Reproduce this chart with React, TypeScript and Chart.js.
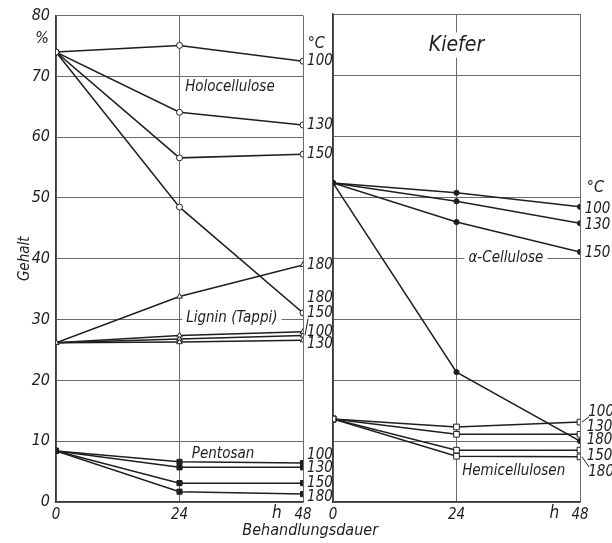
import React, { useEffect, useRef } from "react";
import { Chart, registerables } from "chart.js";

Chart.register(...registerables);

// ---- data ----
const hours = [0, 24, 48];
const yTicks = [0, 10, 20, 30, 40, 50, 60, 70, 80];

// Left panel
const holo100 = [74.0, 75.1, 72.5];
const holo130 = [74.0, 64.1, 62.0];
const holo150 = [74.0, 56.6, 57.2];
const holo180 = [74.0, 48.5, 31.1];
const lignin100 = [26.2, 27.4, 28.0];
const lignin130 = [26.2, 26.3, 26.6];
const lignin150 = [26.2, 26.8, 27.4];
const lignin180 = [26.2, 33.8, 39.0];
const pent100 = [8.4, 6.6, 6.4];
const pent130 = [8.4, 5.7, 5.7];
const pent150 = [8.4, 3.1, 3.1];
const pent180 = [8.4, 1.7, 1.3];

// Right panel (Kiefer)
const acell100 = [52.3, 50.7, 48.4];
const acell130 = [52.3, 49.3, 45.7];
const acell150 = [52.3, 45.9, 41.0];
const acell180 = [52.3, 21.3, 10.0];
const hemi100 = [13.6, 12.3, 13.1];
const hemi130 = [13.6, 11.1, 11.1];
const hemi150 = [13.6, 8.5, 8.5];
const hemi180 = [13.6, 7.5, 7.4];

// Annotation texts (positions in data units: hours, %)
type Note = { text: string; x: number; y: number; align?: CanvasTextAlign; size?: number; bg?: boolean; lead?: [number, number] };
const leftNotes: Note[] = [
  { text: "%", x: -2.7, y: 76.1, align: "center", size: 16 },
  { text: "°C", x: 48.9, y: 75.4, align: "left", size: 16 },
  { text: "100", x: 48.8, y: 72.5 },
  { text: "130", x: 48.8, y: 62.0 },
  { text: "150", x: 48.8, y: 57.2 },
  { text: "180", x: 48.8, y: 39.0 },
  { text: "180", x: 48.8, y: 33.6 },
  { text: "150", x: 48.8, y: 31.0, lead: [48, 27.4] },
  { text: "100", x: 48.8, y: 28.0 },
  { text: "130", x: 48.8, y: 26.0 },
  { text: "100", x: 48.8, y: 7.7 },
  { text: "130", x: 48.8, y: 5.6 },
  { text: "150", x: 48.8, y: 3.1 },
  { text: "180", x: 48.8, y: 0.8 },
  { text: "Holocellulose", x: 25.1, y: 68.2, size: 15 },
  { text: "Lignin (Tappi)", x: 25.3, y: 30.3, size: 15, bg: true },
  { text: "Pentosan", x: 26.4, y: 7.9, size: 15 },
  { text: "h", x: 42.9, y: -1.9, align: "center", size: 17 },
  { text: "Behandlungsdauer", x: 49.4, y: -4.75, align: "center", size: 16 },
];
const rightNotes: Note[] = [
  { text: "Kiefer", x: 24, y: 74.9, align: "center", size: 21, bg: true },
  { text: "°C", x: 49.3, y: 51.5, align: "left", size: 16 },
  { text: "100", x: 48.9, y: 48.0 },
  { text: "130", x: 48.9, y: 45.4 },
  { text: "150", x: 48.9, y: 40.8 },
  { text: "α-Cellulose", x: 33.6, y: 40.0, align: "center", size: 15, bg: true },
  { text: "100", x: 49.6, y: 14.8, lead: [48, 13.1] },
  { text: "130", x: 49.3, y: 12.3 },
  { text: "180", x: 49.3, y: 10.2 },
  { text: "150", x: 49.3, y: 7.6 },
  { text: "180", x: 49.6, y: 4.9, lead: [48, 7.4] },
  { text: "Hemicellulosen", x: 25.1, y: 5.1, size: 15 },
  { text: "h", x: 43.0, y: -1.9, align: "center", size: 17 },
];

const FONT = '"DejaVu Sans Condensed", "Liberation Sans Narrow", "DejaVu Sans", sans-serif';
const INK = "#1e1e1e";
const GRID = "#6a6a6a";

function toPts(vals: number[]) {
  return vals.map((v, i) => ({ x: hours[i], y: v }));
}

type Style = { pointStyle: string; radius: number; fill: string };
const openCircle: Style = { pointStyle: "circle", radius: 3, fill: "#fff" };
const openTri: Style = { pointStyle: "triangle", radius: 3.2, fill: "#fff" };
const filledRect: Style = { pointStyle: "rect", radius: 3.6, fill: INK };
const filledCircle: Style = { pointStyle: "circle", radius: 2.6, fill: INK };
const openRect: Style = { pointStyle: "rect", radius: 4, fill: "#fff" };

function ds(vals: number[], st: Style) {
  return {
    data: toPts(vals),
    borderColor: INK,
    borderWidth: 1.5,
    pointStyle: st.pointStyle,
    pointRadius: st.radius,
    pointBackgroundColor: st.fill,
    pointBorderColor: INK,
    pointBorderWidth: 1,
    tension: 0,
  };
}

function notesPlugin(notes: Note[]) {
  return {
    id: "notes",
    afterDatasetsDraw(chart: any) {
      const { ctx, scales } = chart;
      const xs = scales.x, ys = scales.y;
      ctx.save();
      for (const n of notes) {
        const size = n.size ?? 15;
        const px = xs.getPixelForValue(n.x);
        const py = ys.getPixelForValue(n.y);
        ctx.font = `italic ${size}px ${FONT}`;
        ctx.textAlign = n.align ?? "left";
        ctx.textBaseline = "middle";
        const w = ctx.measureText(n.text).width;
        if (n.bg) {
          let left = px;
          if (ctx.textAlign === "center") left = px - w / 2;
          ctx.fillStyle = "#fff";
          ctx.fillRect(left - 4, py - size * 0.6, w + 8, size * 1.2);
        }
        if (n.lead) {
          ctx.strokeStyle = INK;
          ctx.lineWidth = 1;
          ctx.beginPath();
          ctx.moveTo(xs.getPixelForValue(n.lead[0]) + 2, ys.getPixelForValue(n.lead[1]));
          ctx.lineTo(px + 1, py + (n.lead[1] < n.y ? 5 : -5));
          ctx.stroke();
        }
        ctx.fillStyle = INK;
        ctx.fillText(n.text, px, py);
      }
      ctx.restore();
    },
  };
}

function makeOptions(axisWidth: number, rightPad: number, showY: boolean) {
  return {
    responsive: false,
    animation: false as const,
    layout: { padding: { top: 14, right: rightPad, bottom: 0, left: 0 } },
    plugins: { legend: { display: false }, tooltip: { enabled: false } },
    scales: {
      x: {
        type: "linear" as const,
        min: 0,
        max: 48,
        afterBuildTicks: (s: any) => { s.ticks = hours.map((v) => ({ value: v })); },
        afterFit: (s: any) => { s.height = 41; },
        grid: { color: GRID, lineWidth: 1, drawTicks: false },
        border: { color: "#3a3a3a", width: 1.5 },
        ticks: { color: INK, padding: 4, font: { family: FONT, size: 15, style: "italic" as const } },
      },
      y: {
        type: "linear" as const,
        min: 0,
        max: 80,
        afterBuildTicks: (s: any) => { s.ticks = yTicks.map((v) => ({ value: v })); },
        afterFit: (s: any) => { s.width = axisWidth; },
        grid: { color: GRID, lineWidth: 1, drawTicks: false },
        border: { color: "#3a3a3a", width: 1.5 },
        title: {
          display: showY,
          text: "Gehalt",
          color: INK,
          padding: { top: 16, bottom: 0 },
          font: { family: FONT, size: 15, style: "italic" as const },
        },
        ticks: { display: showY, color: INK, padding: 6, font: { family: FONT, size: 16, style: "italic" as const } },
      },
    },
  };
}

export default function App() {
  const leftRef = useRef<HTMLCanvasElement>(null);
  const rightRef = useRef<HTMLCanvasElement>(null);

  useEffect(() => {
    const left = new Chart(leftRef.current!, {
      type: "line",
      data: {
        datasets: [
          ds(holo100, openCircle), ds(holo130, openCircle), ds(holo150, openCircle), ds(holo180, openCircle),
          ds(lignin100, openTri), ds(lignin130, openTri), ds(lignin150, openTri), ds(lignin180, openTri),
          ds(pent100, filledRect), ds(pent130, filledRect), ds(pent150, filledRect), ds(pent180, filledRect),
        ] as any,
      },
      options: makeOptions(56, 612 - 303, true) as any,
      plugins: [notesPlugin(leftNotes)],
    });
    const right = new Chart(rightRef.current!, {
      type: "line",
      data: {
        datasets: [
          ds(acell100, filledCircle), ds(acell130, filledCircle), ds(acell150, filledCircle), ds(acell180, filledCircle),
          ds(hemi100, openRect), ds(hemi130, openRect), ds(hemi150, openRect), ds(hemi180, openRect),
        ] as any,
      },
      options: makeOptions(333, 612 - 580, false) as any,
      plugins: [notesPlugin(rightNotes)],
    });
    return () => { left.destroy(); right.destroy(); };
  }, []);

  const st: React.CSSProperties = { position: "absolute", left: 0, top: 0, width: 612, height: 543 };
  return (
    <div style={{ position: "absolute", left: 0, top: 0, width: 612, height: 543, background: "#fff" }}>
      <canvas ref={leftRef} width={612} height={543} style={st} />
      <canvas ref={rightRef} width={612} height={543} style={st} />
    </div>
  );
}
